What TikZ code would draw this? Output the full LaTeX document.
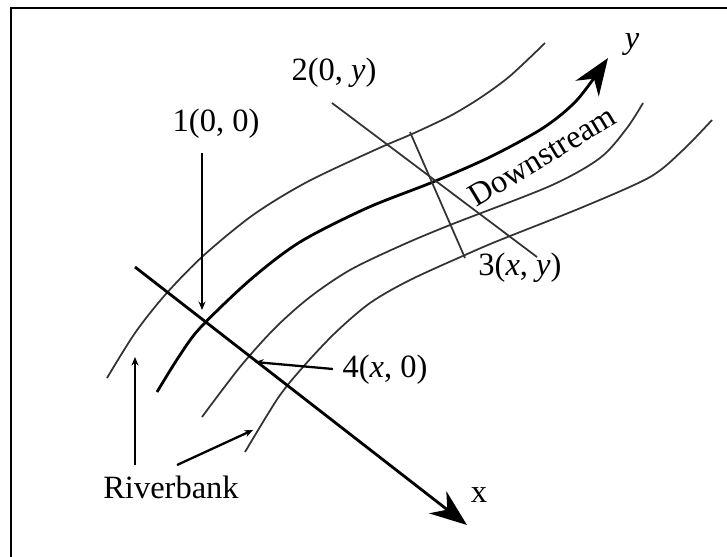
\documentclass[tikz,border=0pt]{standalone}
\usepackage{fontspec}
\setmainfont{Liberation Serif}
\usetikzlibrary{arrows.meta}

\begin{document}
\begin{tikzpicture}[
    x=0.02cm, y=-0.02cm,
    bank/.style={black!80, line width=1pt},
    flow/.style={line width=1.6pt, -{Stealth[length=0.74cm, width=0.56cm]}},
    ptr/.style={line width=1.3pt, -{Stealth[length=0.17cm, width=0.14cm]}},
    lbl/.style={inner sep=0pt, font=\fontsize{18.5}{20}\selectfont}
]
    \useasboundingbox (0,0) rectangle (727,556);

    % Frame
    \draw[line width=1.1pt] (11,570) |- (740,8);

    % River lines
    \draw[bank] plot[smooth] coordinates {(107,378) (135,333) (165,295) (203,256) (253,215) (307,182) (377,149) (412,134) (450,116) (480,98) (510,76) (545,43)};
    \draw[bank] plot[smooth] coordinates {(202,417) (240,367) (275,328) (310,297) (350,270) (400,246) (450,225) (550,186) (600,158) (627,128) (643,103)};
    \draw[bank] plot[smooth] coordinates {(245,452) (278,398) (303,367) (335,333) (370,303) (410,280) (465,255) (500,240) (583,207) (650,177) (683,150) (712,120)};

    % Centre line (y axis) and x axis
    \draw[flow] plot[smooth] coordinates {(157,392) (178,358) (200,328) (250,280) (300,242) (367,208) (433,182) (490,157) (543,128) (577,100) (608,58)};
    \coordinate (xstart) at (135,267);
    \coordinate (xend) at (467,525);
    \draw[flow] (xstart) -- (xend);
    \node[lbl] (xlbl) at (479,495) {x};
    \node[lbl] (ylbl) at (632,45) {\textit{y}};
    \node[lbl, rotate=31] (down) at (542,156) {Downstream};

    % Cross section
    \coordinate (sec-top) at (332,103);
    \coordinate (sec-bot) at (537,257);
    \coordinate (width-top) at (410,132);
    \coordinate (width-bot) at (465,258);
    \draw[bank] (sec-top) -- (sec-bot);
    \draw[bank] (width-top) -- (width-bot);

    % Point labels
    \node[lbl] (pt1) at (216,124) {1(0, 0)};
    \node[lbl] (pt2) at (334,73) {2(0, \textit{y})};
    \node[lbl] (pt3) at (520,268) {3(\textit{x}, \textit{y})};
    \node[lbl] (pt4) at (385,370) {4(\textit{x}, 0)};
    \node[lbl] (bank) at (171,487) {Riverbank};

    \coordinate (pt1-tail) at (202,153);
    \coordinate (pt1-tip) at (202,310);
    \coordinate (pt4-tail) at (333,369);
    \coordinate (pt4-tip) at (255,362);
    \coordinate (bank-tail1) at (135,465);
    \coordinate (bank-tip1) at (135,357);
    \coordinate (bank-tail2) at (177,465);
    \coordinate (bank-tip2) at (253,430);

    % Pointers
    \draw[ptr] (pt1-tail) -- (pt1-tip);
    \draw[ptr] (pt4-tail) -- (pt4-tip);
    \draw[ptr] (bank-tail1) -- (bank-tip1);
    \draw[ptr] (bank-tail2) -- (bank-tip2);
\end{tikzpicture}
\end{document}
